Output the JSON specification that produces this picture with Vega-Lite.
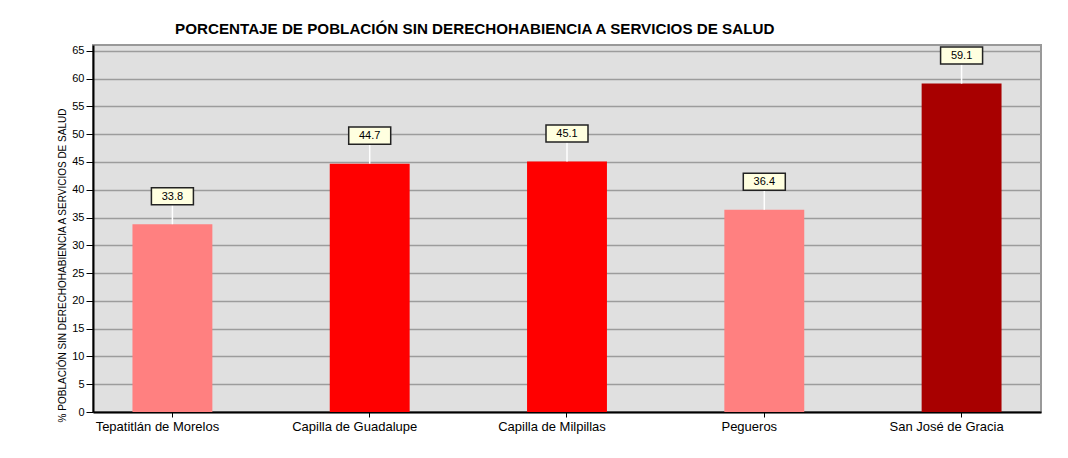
{
  "$schema": "https://vega.github.io/schema/vega-lite/v6.json",
  "autosize": {"type": "none"},
  "padding": {"left": 93, "top": 45, "right": 27, "bottom": 46},
  "width": 948,
  "height": 367,
  "background": "white",
  "config": {
    "font": "Liberation Sans",
    "view": {"fill": "#E0E0E0", "stroke": "#999999", "strokeWidth": 2},
    "axis": {"labelFont": "Liberation Sans", "titleFont": "Liberation Sans", "labelColor": "black", "titleColor": "black"}
  },
  "title": {
    "text": "PORCENTAJE DE POBLACIÓN SIN DERECHOHABIENCIA A SERVICIOS DE SALUD",
    "anchor": "start",
    "frame": "group",
    "dx": 82,
    "fontSize": 15.2,
    "fontWeight": "bold",
    "font": "Liberation Sans",
    "color": "black",
    "baseline": "alphabetic",
    "offset": -5
  },
  "data": {
    "values": [
      {"municipio": "Tepatitlán de Morelos", "porcentaje": 33.8},
      {"municipio": "Capilla de Guadalupe", "porcentaje": 44.7},
      {"municipio": "Capilla de Milpillas", "porcentaje": 45.1},
      {"municipio": "Pegueros", "porcentaje": 36.4},
      {"municipio": "San José de Gracia", "porcentaje": 59.1}
    ]
  },
  "encoding": {
    "x": {
      "field": "municipio",
      "type": "nominal",
      "sort": null,
      "scale": {"paddingInner": 0.595, "paddingOuter": 0.2},
      "axis": {
        "title": null,
        "labelAngle": 0,
        "labelFontSize": 13,
        "labelPadding": 3,
        "labelOffset": -15,
        "tickSize": 5,
        "tickColor": "black",
        "tickWidth": 1,
        "domainColor": "black",
        "domainWidth": 2
      }
    },
    "y": {
      "field": "porcentaje",
      "type": "quantitative",
      "scale": {"domain": [0, 66.05], "nice": false},
      "axis": {
        "title": "% POBLACIÓN SIN DERECHOHABIENCIA A SERVICIOS DE SALUD",
        "titleFontSize": 10,
        "titleFontWeight": "normal",
        "titleX": -31,
        "titleY": 220,
        "titleAlign": "center",
        "titleBaseline": "middle",
        "titleAngle": 270,
        "values": [0, 5, 10, 15, 20, 25, 30, 35, 40, 45, 50, 55, 60, 65],
        "labelFontSize": 11,
        "labelPadding": 2,
        "tickSize": 7,
        "tickColor": "black",
        "tickWidth": 1,
        "domainColor": "black",
        "domainWidth": 2,
        "grid": true,
        "gridColor": "#9C9C9C",
        "gridWidth": 1.5
      }
    }
  },
  "layer": [
    {
      "mark": {"type": "bar"},
      "encoding": {
        "color": {
          "field": "municipio",
          "type": "nominal",
          "legend": null,
          "scale": {
            "domain": ["Tepatitlán de Morelos", "Capilla de Guadalupe", "Capilla de Milpillas", "Pegueros", "San José de Gracia"],
            "range": ["#FF8080", "#FF0000", "#FF0000", "#FF8080", "#A80000"]
          }
        }
      }
    },
    {
      "mark": {"type": "rule", "color": "white", "strokeWidth": 1.5, "y2Offset": -20},
      "encoding": {"y2": {"field": "porcentaje"}}
    },
    {
      "mark": {
        "type": "point",
        "shape": "M -1 -0.405 L 1 -0.405 L 1 0.405 L -1 0.405 Z",
        "size": 1764,
        "filled": true,
        "fill": "#FFFFE0",
        "stroke": "#222222",
        "strokeWidth": 1.5,
        "opacity": 1,
        "yOffset": -28
      },
      "encoding": {}
    },
    {
      "mark": {"type": "text", "fontSize": 11, "color": "black", "baseline": "middle", "align": "center", "yOffset": -27.5},
      "encoding": {"text": {"field": "porcentaje", "type": "quantitative", "format": ".1f"}}
    }
  ]
}
